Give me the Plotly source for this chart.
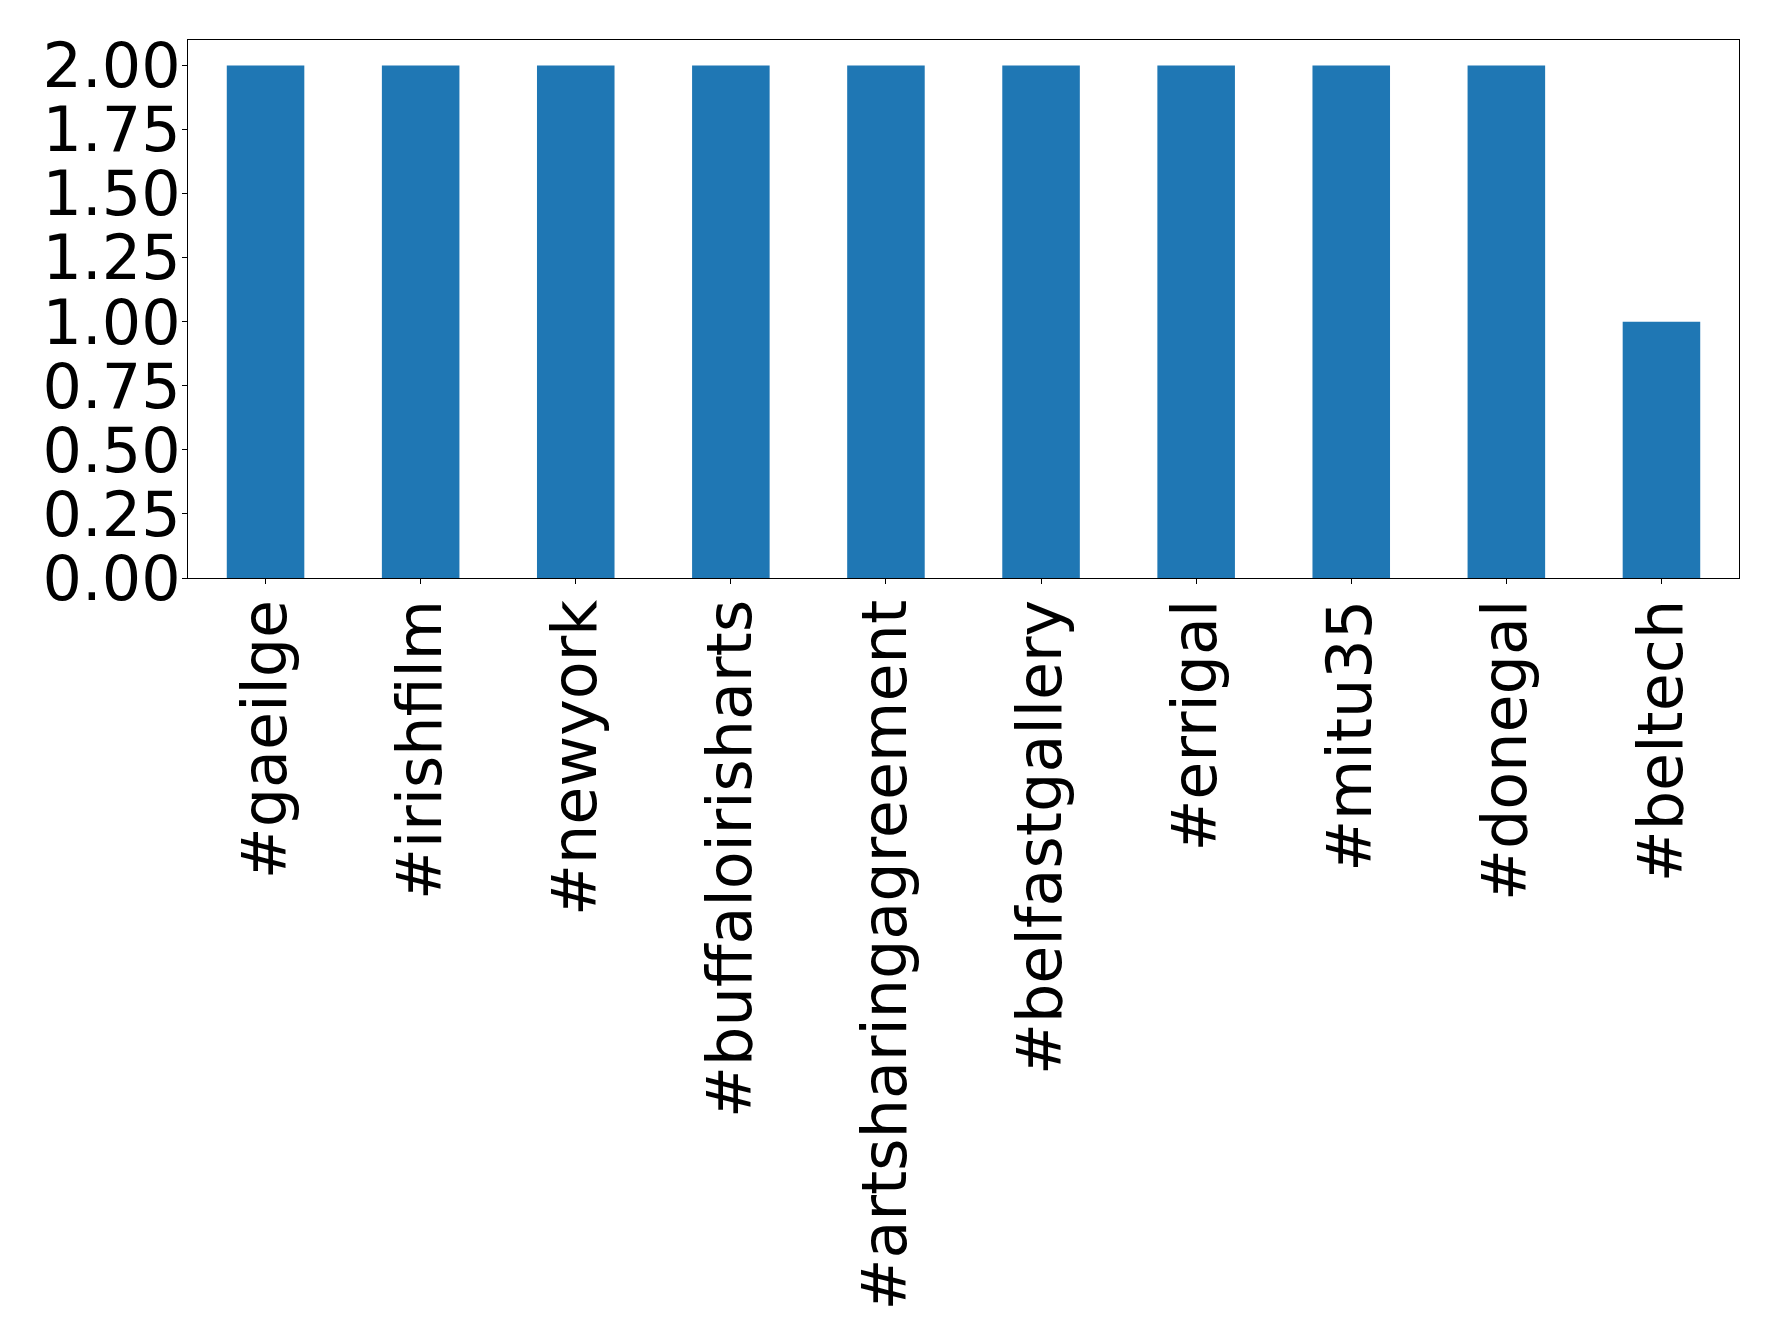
import plotly.graph_objects as go

categories = ["#gaeilge", "#irishfilm", "#newyork", "#buffaloirisharts",
              "#artsharingagreement", "#belfastgallery", "#errigal", "#mitu35",
              "#donegal", "#beltech"]
values = [2, 2, 2, 2, 2, 2, 2, 2, 2, 1]
y_ticks = [0, 0.25, 0.5, 0.75, 1.0, 1.25, 1.5, 1.75, 2.0]

fig = go.Figure(go.Bar(x=list(range(len(categories))), y=values,
                       marker=dict(color="#1f77b4", line=dict(width=0)), width=0.5))

fig.update_layout(
    width=1778, height=1344,
    margin=dict(l=180, r=47, t=32, b=774, autoexpand=False),
    paper_bgcolor="white", plot_bgcolor="white",
    font=dict(family="DejaVu Sans", size=62, color="black"),
    showlegend=False,
)
fig.update_xaxes(
    range=[-0.5, 9.5], tickmode="array", tickvals=list(range(len(categories))),
    ticktext=categories, tickangle=-90, ticks="outside", ticklen=5, tickwidth=1,
    tickcolor="black", showline=True, linecolor="black", linewidth=1, mirror=True,
    showgrid=False, zeroline=False, automargin=False, ticklabelstandoff=-9,
)
fig.update_yaxes(
    range=[0, 2.1], tickmode="array", tickvals=y_ticks, tickformat=".2f",
    ticks="outside", ticklen=5, tickwidth=1, tickcolor="black",
    showline=True, linecolor="black", linewidth=1, mirror=True,
    showgrid=False, zeroline=False, automargin=False, ticklabelstandoff=-11,
)
fig.write_html("out.html")
